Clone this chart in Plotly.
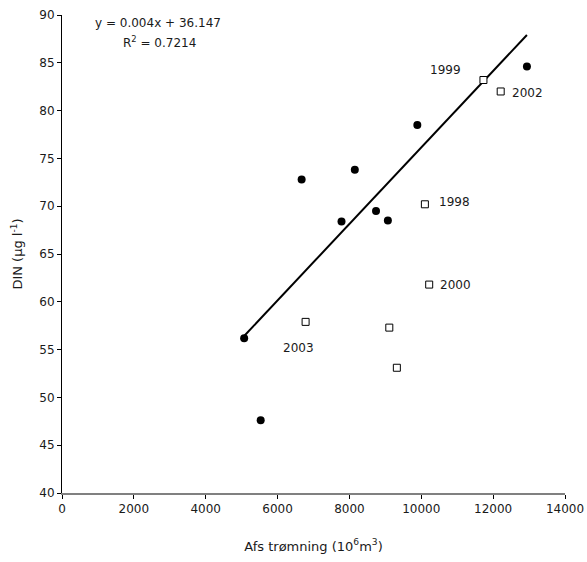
import plotly.graph_objects as go

# Runoff (10^6 m^3) and DIN (µg/l) per year
dot_runoff = [5070, 5530, 6670, 7780, 8150, 8740, 9070, 9890, 12940]
dot_din = [56.2, 47.6, 72.8, 68.4, 73.8, 69.5, 68.5, 78.5, 84.6]

sq_runoff = [6780, 9110, 9320, 10100, 10220, 11730, 12210]
sq_din = [57.9, 57.3, 53.1, 70.2, 61.8, 83.2, 82.0]

# Labelled years (subset of the open squares)
label_years = ["2003", "1998", "2000", "1999", "2002"]
label_runoff = [6780, 10100, 10220, 11730, 12210]
label_din = [57.9, 70.2, 61.8, 83.2, 82.0]

# Linear trend fitted to the filled points
slope = 0.004
intercept = 36.147
r_squared = 0.7214

x_ticks = [0, 2000, 4000, 6000, 8000, 10000, 12000, 14000]
y_ticks = [40, 45, 50, 55, 60, 65, 70, 75, 80, 85, 90]

FONT = "DejaVu Sans"
TXT = "#1a1a1a"

fig = go.Figure()

line_x = [min(dot_runoff), max(dot_runoff)]
line_y = [slope * v + intercept for v in line_x]
fig.add_trace(go.Scatter(
    x=line_x, y=line_y, mode="lines",
    line=dict(color="black", width=2), hoverinfo="skip", showlegend=False,
))

fig.add_trace(go.Scatter(
    x=dot_runoff, y=dot_din, mode="markers",
    marker=dict(symbol="circle", size=8, color="black"),
    showlegend=False,
))

fig.add_trace(go.Scatter(
    x=sq_runoff, y=sq_din, mode="markers",
    marker=dict(symbol="square", size=7, color="white",
                line=dict(color="black", width=1)),
    showlegend=False,
))

# Year labels, offset in pixels from their squares
offsets = {
    "2003": (-7, -26),
    "1998": (30, 2),
    "2000": (26, 0),
    "1999": (-38, 10),
    "2002": (27, -2),
}
for yr, xv, yv in zip(label_years, label_runoff, label_din):
    dx, dy = offsets[yr]
    fig.add_annotation(
        x=xv, y=yv, xref="x", yref="y", text=yr, showarrow=False,
        xshift=dx, yshift=dy, font=dict(family=FONT, size=12, color=TXT),
    )

# Regression equation, centred near the top-left of the plot
fig.add_annotation(
    x=(158 - 62) / 503, y=(493.3 - 22.7) / 478.6, xref="paper", yref="paper",
    xanchor="center", yanchor="middle",
    text=f"y = {slope}x + {intercept}", showarrow=False,
    font=dict(family=FONT, size=12, color=TXT),
)
fig.add_annotation(
    x=(159 - 62) / 503, y=(493.3 - 41.7) / 478.6, xref="paper", yref="paper",
    xanchor="center", yanchor="middle",
    text=f"R<sup>2</sup> = {r_squared}", showarrow=False,
    font=dict(family=FONT, size=12, color=TXT),
)

fig.update_layout(
    width=587, height=562,
    margin=dict(l=62, r=22, t=15, b=69),
    paper_bgcolor="white", plot_bgcolor="white",
    font=dict(family=FONT, size=12, color=TXT),
    showlegend=False,
    xaxis=dict(
        range=[0, 14000], tickvals=x_ticks, ticktext=[str(v) for v in x_ticks],
        showgrid=False, zeroline=False, automargin=False,
        showline=True, linecolor="#808080", linewidth=2,
        ticks="outside", ticklen=4, tickcolor="black", tickwidth=1,
        title=dict(text="Afs trømning (10<sup>6</sup>m<sup>3</sup>)",
                   font=dict(family=FONT, size=13, color=TXT), standoff=26),
        tickfont=dict(family=FONT, size=12, color=TXT),
    ),
    yaxis=dict(
        range=[40, 90], tickvals=y_ticks, ticktext=[str(v) for v in y_ticks],
        showgrid=False, zeroline=False, automargin=False,
        showline=True, linecolor="black", linewidth=1,
        ticks="outside", ticklen=4, tickcolor="black", tickwidth=1,
        title=dict(text="DIN (µg l<sup>-1</sup>)",
                   font=dict(family=FONT, size=13, color=TXT), standoff=13),
        tickfont=dict(family=FONT, size=12, color=TXT),
    ),
)

fig.write_html("out.html")
